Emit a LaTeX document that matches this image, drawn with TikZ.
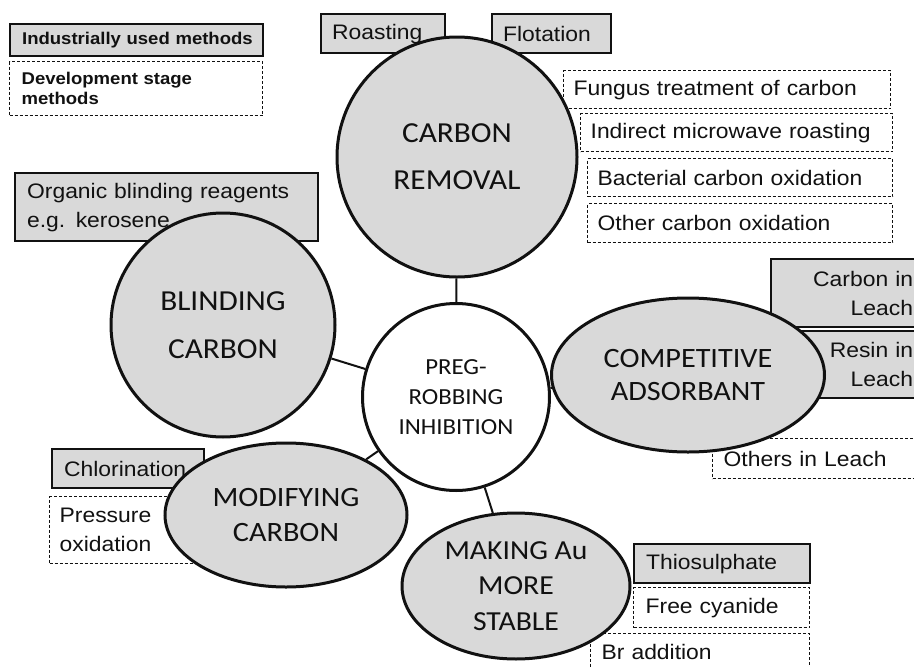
\documentclass[tikz,border=0pt]{standalone}
\usepackage{fontspec}
\setmainfont{Liberation Sans}
\newfontfamily\labfont[FakeStretch=1.09]{Liberation Sans}
\newfontfamily\blobfont[FakeStretch=1.08]{Carlito}
\usetikzlibrary{shapes.geometric}
\definecolor{boxgray}{HTML}{D9D9D9}
\definecolor{inkc}{HTML}{111111}
\tikzset{
  labtext/.style={font=\labfont\fontsize{21pt}{29pt}\selectfont, text=inkc},
  solidbox/.style={labtext, draw=inkc, fill=boxgray, line width=2.2pt, anchor=north west,
    inner ysep=0pt, align=left},
  dashbox/.style={labtext, draw=inkc, fill=white, line width=1.3pt, dash pattern=on 3pt off 2pt,
    anchor=north west, inner ysep=0pt, align=left},
  blob/.style={ellipse, draw=inkc, fill=boxgray, line width=3pt, inner sep=0pt, align=center,
    text=inkc},
  link/.style={draw=inkc, line width=2pt}
}
\begin{document}
\begin{tikzpicture}[x=1pt,y=-1pt]
\useasboundingbox (0,0) rectangle (914,667);

% legend
\node[solidbox, inner xsep=12pt, minimum width=253pt, text width=229pt, minimum height=32pt,
  font=\labfont\bfseries\fontsize{17pt}{20pt}\selectfont] (ind) at (9,23) {\mbox{Industrially used methods}};
\node[dashbox, inner xsep=12pt, minimum width=253pt, text width=229pt, minimum height=54pt,
  font=\labfont\bfseries\fontsize{17pt}{20.5pt}\selectfont] (dev) at (9,61) {Development stage\\methods};

% carbon removal methods
\node[solidbox, inner xsep=11pt, minimum width=124pt, text width=102pt, minimum height=39pt] (roast) at (320,13) {Roasting};
\node[solidbox, inner xsep=11pt, minimum width=119pt, text width=97pt, minimum height=39pt] (flot) at (491,13) {Flotation};
\node[dashbox, inner xsep=10pt, minimum width=327pt, text width=307pt, minimum height=38pt] (fung) at (563,70) {Fungus treatment of carbon};
\node[dashbox, inner xsep=10pt, minimum width=312pt, text width=292pt, minimum height=38pt] (micro) at (580,113) {Indirect microwave roasting};
\node[dashbox, inner xsep=10pt, minimum width=305pt, text width=285pt, minimum height=38pt] (bact) at (587,158) {Bacterial carbon oxidation};
\node[dashbox, inner xsep=10pt, minimum width=305pt, text width=285pt, minimum height=39pt] (oth) at (587,203) {Other carbon oxidation};

% blinding
\node[solidbox, inner xsep=12pt, minimum width=303pt, text width=279pt, minimum height=68pt] (org) at (14,172) {Organic blinding reagents\\e.g. kerosene};

% competitive adsorbant
\node[solidbox, inner xsep=18pt, minimum width=160pt, text width=124pt, minimum height=68pt, align=right] (cil) at (770,258) {Carbon in\\Leach};
\node[solidbox, inner xsep=18pt, minimum width=160pt, text width=124pt, minimum height=67pt, align=right] (ril) at (770,330) {Resin in\\Leach};
\node[dashbox, inner xsep=11pt, minimum width=220pt, text width=198pt, minimum height=40pt] (oil) at (712,438) {Others in Leach};

% modifying carbon
\node[solidbox, inner xsep=12pt, minimum width=152pt, text width=128pt, minimum height=39pt] (chlor) at (51,448) {Chlorination};
\node[dashbox, inner xsep=10pt, minimum width=150pt, text width=130pt, minimum height=67pt] (pox) at (49,496) {Pressure\\oxidation};

% making Au more stable
\node[solidbox, inner xsep=12pt, minimum width=176pt, text width=152pt, minimum height=39pt] (thio) at (633,543) {Thiosulphate};
\node[dashbox, inner xsep=12pt, minimum width=176pt, text width=152pt, minimum height=40pt] (fcn) at (633,587) {Free cyanide};
\node[dashbox, inner xsep=11pt, minimum width=219pt, text width=197pt, minimum height=37pt] (br) at (590,633) {Br addition};

% main ellipses
\node[blob, minimum width=240pt, minimum height=240pt, font=\blobfont\fontsize{29pt}{47pt}\selectfont] (cr) at (457,157) {CARBON\\REMOVAL};
\node[blob, minimum width=224pt, minimum height=224pt, font=\blobfont\fontsize{29pt}{48pt}\selectfont] (bc) at (223,325) {BLINDING\\CARBON};
\node[blob, fill=white, minimum width=187pt, minimum height=187pt, font=\blobfont\fontsize{23pt}{30pt}\selectfont] (pr) at (456,397) {PREG-\\ROBBING\\INHIBITION};
\node[blob, minimum width=273pt, minimum height=154pt, font=\blobfont\fontsize{28pt}{33pt}\selectfont] (ca) at (688,375) {COMPETITIVE\\ADSORBANT};
\node[blob, minimum width=242pt, minimum height=144pt, font=\blobfont\fontsize{28pt}{35pt}\selectfont] (mc) at (286,515) {MODIFYING\\CARBON};
\node[blob, minimum width=228pt, minimum height=146pt, font=\blobfont\fontsize{27.5pt}{35.5pt}\selectfont] (ma) at (516,586) {MAKING Au\\MORE\\STABLE};

% connectors
\draw[link] (cr) -- (pr);
\draw[link] (bc) -- (pr);
\draw[link] (ca) -- (pr);
\draw[link] (mc) -- (pr);
\draw[link] (ma) -- (pr);
\end{tikzpicture}
\end{document}
